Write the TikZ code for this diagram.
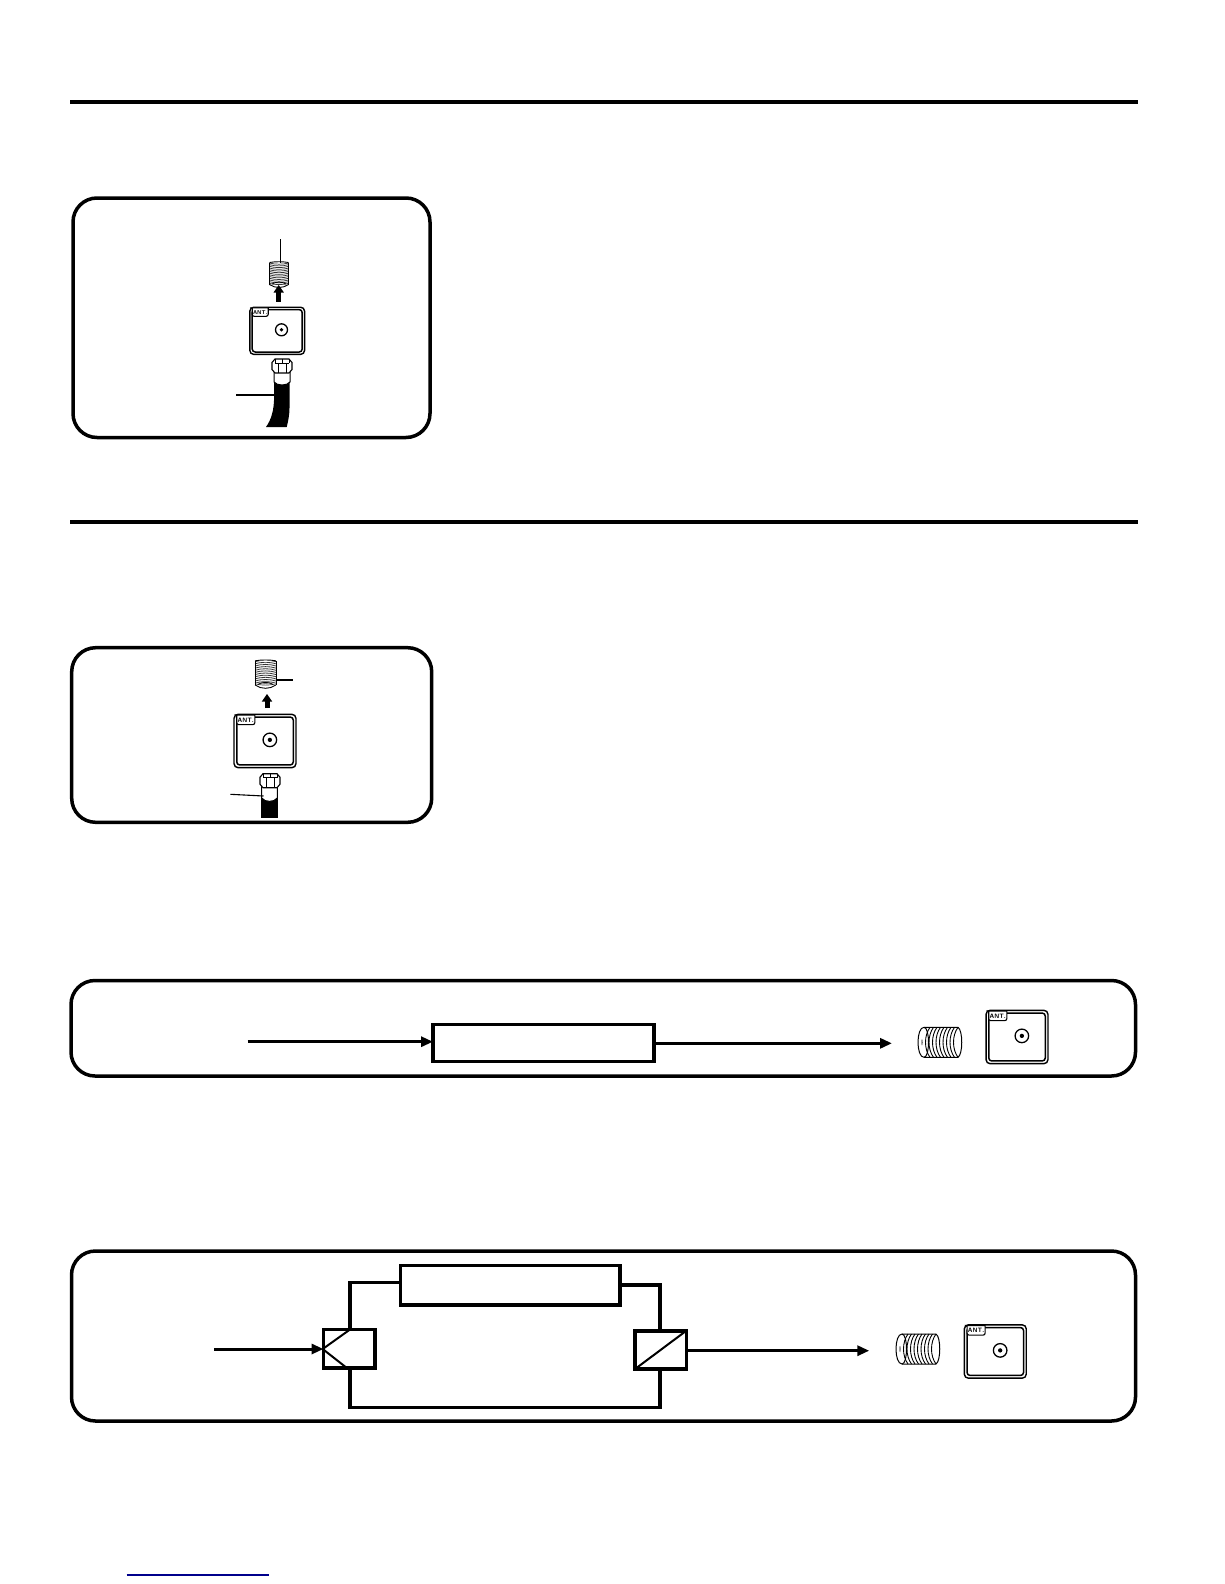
\documentclass[tikz,border=0pt]{standalone}
\usetikzlibrary{arrows.meta}
\tikzset{
  panel/.style={draw=black,line width=3.5pt,rounded corners=24pt,fill=white,outer sep=0pt,inner sep=0pt,anchor=north west},
  rule/.style={draw=black,line width=4pt},
  blockbox/.style={draw=black,line width=3.4pt,fill=white,outer sep=0pt,inner sep=0pt,anchor=north west},
  wire/.style={draw=black,line width=3.2pt},
  thinl/.style={draw=black,line width=1.1pt},
  flow/.style={draw=black,line width=3pt,-{Triangle[length=12pt,width=10pt]}},
  pics/antbox/.style={code={
    \draw[black,line width=1.4pt,rounded corners=4pt] (-27.4,-23.6) rectangle (27.4,23.6);
    \draw[black,line width=1.5pt,rounded corners=3pt] (-25,-21.2) rectangle (25,21.2);
    \draw[black,line width=1.1pt,fill=white] (-26,-23) -- (-9,-23) -- (-9,-16.5) [rounded corners=2pt] -- (-9,-14.5) -- (-25,-14.5) [sharp corners] -- (-25,-22) -- cycle;
    \node[font=\sffamily\bfseries,scale=.56,transform shape,inner sep=0pt] at (-17,-18.7) {ANT.};
    \draw[black,line width=1.3pt] (4.3,-1) circle (6);
    \fill[black] (4.3,-1) circle (1.9);
  }},
  pics/vplug/.style={code={
    \foreach \yy in {-11.5,-9.8,...,9}
      \draw[black!80,line width=.7pt] (-9.5,\yy) .. controls (-4,\yy+1.6) and (4,\yy+1.6) .. (9.5,\yy);
    \draw[black,line width=.9pt] (-9.5,-12) .. controls (-4,-13) and (4,-13) .. (9.5,-12);
    \draw[black,line width=.9pt] (-9.5,-12) -- (-9.5,10) (9.5,-12) -- (9.5,10);
    \draw[black,line width=.9pt] (-9.5,10) .. controls (-4,14) and (4,14) .. (9.5,10);
    \draw[black,line width=.8pt] (-7,9.5) .. controls (-3,7) and (3,7) .. (7,9.5);
  }},
  pics/hplug/.style={code={
    \draw[black,line width=1pt] (-16,-15) -- (18,-15) .. controls (23,-12) and (23,12) .. (18,15) -- (-16,15);
    \draw[black,line width=1pt] (-16,-15) .. controls (-24,-15) and (-24,15) .. (-16,15) .. controls (-10,15) and (-10,-15) .. (-16,-15);
    \foreach \xx in {-10,-6.5,...,20}
      \draw[black,line width=.9pt] (\xx,-15) .. controls (\xx-6,-7) and (\xx-6,7) .. (\xx,15);
    \fill[black] (-18,0) ellipse (.5 and 3);
  }},
  pics/nut/.style={code={
    \draw[black,line width=1.1pt,fill=white] (-10,-3.5) -- (-7,-7) -- (7,-7) -- (10,-3.5) -- (10,3.5) -- (7,7) -- (-7,7) -- (-10,3.5) -- cycle;
    \draw[black,line width=.9pt] (-7,-3) -- (7,-3) (-4,-3) -- (-4,7) (4,-3) -- (4,7) (-7,-7) -- (-7,-3) (7,-7) -- (7,-3) (0,-7) -- (0,-3);
  }},
}
\begin{document}
\begin{tikzpicture}[x=1pt,y=-1pt]
\useasboundingbox (0,0) rectangle (1224,1584);
\fill[white] (0,0) rectangle (1224,1584);
% rules
\coordinate (r1a) at (70,101.7); \coordinate (r1b) at (1138,101.7);
\coordinate (r2a) at (70,521.7); \coordinate (r2b) at (1138,521.7);
\draw[rule] (r1a) -- (r1b);
\draw[rule] (r2a) -- (r2b);
% panel 1
\node[panel,minimum width=357pt,minimum height=239.5pt] (p1) at (73,198) {};
\coordinate (l1a) at (280.3,239); \coordinate (l1b) at (280.3,263);
\draw[thinl] (l1a) -- (l1b);
\pic at (279,274.5) {vplug};
\draw[black,line width=5pt] (278.7,301.7) -- (278.7,291);
\fill[black] (273.5,292.5) -- (278.7,285) -- (283.9,292.5) -- cycle;
\pic at (277.2,330.8) {antbox};
\fill[black] (274,380) -- (289.5,380) -- (289.5,408) .. controls (289.5,415) and (288,422) .. (286.7,427) -- (266,427) .. controls (271,420) and (274.5,410) .. (274,395) -- cycle;
\draw[black,line width=1pt,fill=white] (274,370) -- (274,382) .. controls (277,386) and (287,386) .. (290,382) -- (290,370) -- cycle;
\pic at (282,366) {nut};
\coordinate (l2a) at (236,395); \coordinate (l2b) at (274,395);
\draw[thinl] (l2a) -- (l2b);
% panel 2
\node[panel,minimum width=360pt,minimum height=174.6pt] (p2) at (71.7,647.7) {};
\pic[scale=1.1] at (265.5,674) {vplug};
\coordinate (l3a) at (276,680); \coordinate (l3b) at (292.7,680);
\draw[thinl] (l3a) -- (l3b);
\draw[black,line width=5pt] (267,708) -- (267,700);
\fill[black] (261.8,701.5) -- (267,694) -- (272.2,701.5) -- cycle;
\pic[scale=1.13] at (265,741) {antbox};
\fill[black] (261,795) rectangle (278,818.3);
\draw[black,line width=1pt,fill=white] (261.7,784) -- (261.7,798) .. controls (265,802.5) and (274,802.5) .. (277.3,798) -- (277.3,784) -- cycle;
\pic at (270,780.7) {nut};
\coordinate (l4a) at (230.3,794.3); \coordinate (l4b) at (263.5,796);
\draw[thinl] (l4a) -- (l4b);
% panel 3
\node[panel,minimum width=1064.5pt,minimum height=95.5pt] (p3) at (71,980.5) {};
\node[blockbox,minimum width=221pt,minimum height=37pt] (b3) at (433,1024.5) {};
\coordinate (in3) at (247.7,1041.7);
\coordinate (out3) at (892,1043.3);
\draw[flow] (in3) -- (b3.west |- in3);
\draw[flow] (b3.east |- out3) -- (out3);
\pic at (940,1042.3) {hplug};
\pic[scale=1.13] at (1017,1037) {antbox};
% panel 4
\node[panel,minimum width=1064pt,minimum height=170pt] (p4) at (71.5,1251) {};
\node[blockbox,minimum width=219.5pt,minimum height=39.5pt] (b4) at (400.5,1265.5) {};
\node[blockbox,minimum width=51.5pt,minimum height=38.5pt] (sp) at (323.5,1329.5) {};
\node[blockbox,minimum width=51.5pt,minimum height=38pt] (co) at (635,1331) {};
\coordinate (wl) at (350,1282.7);
\coordinate (wr) at (660,1285);
\coordinate (wb) at (350,1407.7);
\coordinate (wc) at (660,1407.7);
\draw[wire] (b4.west |- wl) -- (wl) -- (wl |- sp.north);
\draw[wire] (b4.east |- wr) -- (wr) -- (wr |- co.north);
\draw[wire] (wb |- sp.south) -- (wb) -- (wc) -- (wc |- co.south);
\draw[black,line width=2pt] (322.7,1349) -- (349.3,1330) (322.7,1349) -- (346,1367.3);
\draw[black,line width=2pt] (636,1368.3) -- (685,1331.7);
\coordinate (in4) at (214.3,1349);
\coordinate (out4) at (869.3,1350.7);
\draw[flow] (in4) -- (sp.west |- in4);
\draw[flow] (co.east |- out4) -- (out4);
\pic at (918,1349) {hplug};
\pic[scale=1.13] at (995.3,1351.5) {antbox};
% blue link line
\coordinate (la) at (126.7,1575); \coordinate (lb) at (269,1575);
\draw[draw={rgb,255:red,0;green,0;blue,140},line width=1.2pt] (la) -- (lb);
\end{tikzpicture}
\end{document}
